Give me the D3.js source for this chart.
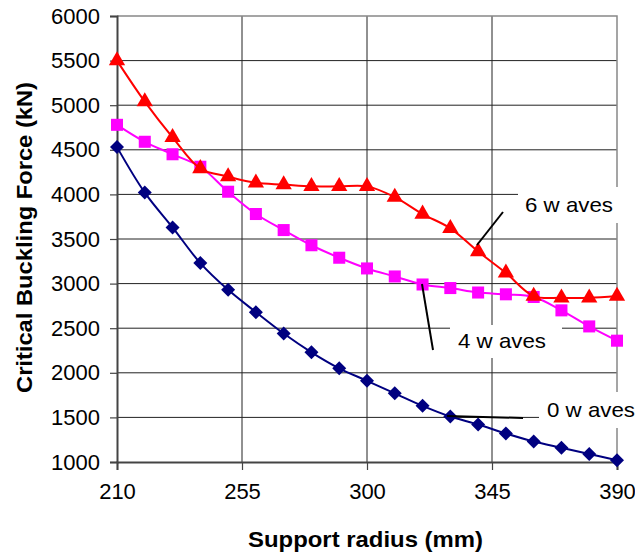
<!DOCTYPE html>
<html>
<head>
<meta charset="utf-8">
<script src="https://cdn.jsdelivr.net/npm/d3@7"></script>
<style>
  body { margin: 0; background: #fff; }
  text { font-family: Arial, "Liberation Sans", sans-serif; }
</style>
</head>
<body>
<div id="container"></div>
<script>
const radius = [210, 220, 230, 240, 250, 260, 270, 280, 290, 300, 310, 320, 330, 340, 350, 360, 370, 380, 390];
const waves6 = [5500, 5040, 4640, 4290, 4200, 4130, 4110, 4090, 4090, 4090, 3970, 3780, 3620, 3360, 3120, 2860, 2840, 2840, 2860];
const waves4 = [4780, 4590, 4450, 4310, 4030, 3780, 3600, 3430, 3290, 3170, 3080, 2990, 2950, 2900, 2880, 2850, 2700, 2520, 2360];
const waves0 = [4530, 4020, 3630, 3230, 2930, 2680, 2440, 2230, 2050, 1910, 1770, 1630, 1510, 1420, 1320, 1230, 1160, 1090, 1020];
const xTicks = [210, 255, 300, 345, 390];
const yTicks = [1000, 1500, 2000, 2500, 3000, 3500, 4000, 4500, 5000, 5500, 6000];

main();

function main() {
  const width = 635;
  const height = 554;
  const margin = { top: 16, right: 18, bottom: 92, left: 117 };
  const innerWidth = width - margin.left - margin.right;
  const innerHeight = height - margin.top - margin.bottom;

  const svg = d3
    .select("#container")
    .append("svg")
    .attr("width", width)
    .attr("height", height);
  const plot = svg
    .append("g")
    .attr("transform", `translate(${margin.left}, ${margin.top})`);

  const scaleX = d3.scaleLinear().domain([210, 390]).range([0, innerWidth]);
  const scaleY = d3.scaleLinear().domain([1000, 6000]).range([innerHeight, 0]);

  // gridlines
  plot
    .append("g")
    .selectAll("line")
    .data(yTicks.slice(1, -1))
    .join("line")
    .attr("x1", 0)
    .attr("x2", innerWidth)
    .attr("y1", (d) => scaleY(d))
    .attr("y2", (d) => scaleY(d))
    .attr("stroke", "#222")
    .attr("stroke-width", 1);
  plot
    .append("g")
    .selectAll("line")
    .data(xTicks.slice(1, -1))
    .join("line")
    .attr("x1", (d) => scaleX(d))
    .attr("x2", (d) => scaleX(d))
    .attr("y1", 0)
    .attr("y2", innerHeight)
    .attr("stroke", "#222")
    .attr("stroke-width", 1);

  // top / right border
  plot
    .append("path")
    .attr("d", `M0,0H${innerWidth}V${innerHeight}`)
    .attr("fill", "none")
    .attr("stroke", "#888")
    .attr("stroke-width", 1.5);

  // axes
  const axisY = plot
    .append("g")
    .call(
      d3
        .axisLeft(scaleY)
        .tickValues(yTicks)
        .tickFormat(d3.format("d"))
        .tickSize(7)
        .tickPadding(10)
    );
  const axisX = plot
    .append("g")
    .attr("transform", `translate(0, ${innerHeight})`)
    .call(
      d3
        .axisBottom(scaleX)
        .tickValues(xTicks)
        .tickFormat(d3.format("d"))
        .tickSize(8)
        .tickPadding(13)
    );
  [axisX, axisY].forEach((axis) => {
    axis.attr("font-size", null).attr("font-family", null);
    axis.select(".domain").attr("stroke", "#444").attr("stroke-width", 2);
    axis.selectAll(".tick line").attr("stroke", "#444").attr("stroke-width", 1.2);
    axis
      .selectAll(".tick text")
      .attr("font-size", "22px")
      .attr("fill", "#000");
  });

  // label boxes (cover gridlines)
  const labels = [
    { text: "6 w aves", x: 518, y: 187, w: 110, h: 36, tx: 525, ty: 212, from: [503, 212], to: [477, 245] },
    { text: "4 w aves", x: 450, y: 325, w: 112, h: 33, tx: 458, ty: 348, from: [433, 350], to: [422, 284] },
    { text: "0 w aves", x: 539, y: 392, w: 100, h: 36, tx: 547, ty: 417, from: [523, 418], to: [447, 416] },
  ];
  svg
    .append("g")
    .selectAll("rect")
    .data(labels)
    .join("rect")
    .attr("x", (d) => d.x)
    .attr("y", (d) => d.y)
    .attr("width", (d) => d.w)
    .attr("height", (d) => d.h)
    .attr("fill", "#fff");

  // series
  const series = [
    { values: waves0, color: "#000080", symbol: d3.symbolSquare, size: 98, rotate: 45 },
    { values: waves4, color: "#ff00ff", symbol: d3.symbolSquare, size: 145, rotate: 0 },
    { values: waves6, color: "#ff0000", symbol: d3.symbolTriangle, size: 115, rotate: 0 },
  ];
  const line = d3
    .line()
    .x((d, i) => scaleX(radius[i]))
    .y((d) => scaleY(d))
    .curve(d3.curveCatmullRom.alpha(0.5));

  series.forEach((s) => {
    plot
      .append("path")
      .datum(s.values)
      .attr("fill", "none")
      .attr("stroke", s.color)
      .attr("stroke-width", 2)
      .attr("d", line);
    plot
      .append("g")
      .selectAll("path")
      .data(s.values)
      .join("path")
      .attr(
        "transform",
        (d, i) => `translate(${scaleX(radius[i])}, ${scaleY(d)}) rotate(${s.rotate})`
      )
      .attr("d", d3.symbol().type(s.symbol).size(s.size))
      .attr("fill", s.color);
  });

  // leader lines and label text
  const annot = svg.append("g");
  annot
    .selectAll("line")
    .data(labels)
    .join("line")
    .attr("x1", (d) => d.from[0])
    .attr("y1", (d) => d.from[1])
    .attr("x2", (d) => d.to[0])
    .attr("y2", (d) => d.to[1])
    .attr("stroke", "#000")
    .attr("stroke-width", 2);
  annot
    .selectAll("text")
    .data(labels)
    .join("text")
    .attr("x", (d) => d.tx)
    .attr("y", (d) => d.ty)
    .attr("font-size", "21px")
    .attr("textLength", 88)
    .attr("lengthAdjust", "spacingAndGlyphs")
    .text((d) => d.text);

  // axis titles
  svg
    .append("text")
    .attr("x", 248)
    .attr("y", 547)
    .attr("font-size", "22px")
    .attr("font-weight", "700")
    .attr("textLength", 235)
    .attr("lengthAdjust", "spacingAndGlyphs")
    .text("Support radius (mm)");
  svg
    .append("text")
    .attr("transform", `translate(32, 393) rotate(-90)`)
    .attr("font-size", "22px")
    .attr("font-weight", "700")
    .attr("textLength", 311)
    .attr("lengthAdjust", "spacingAndGlyphs")
    .text("Critical Buckling Force (kN)");
}
</script>
</body>
</html>
